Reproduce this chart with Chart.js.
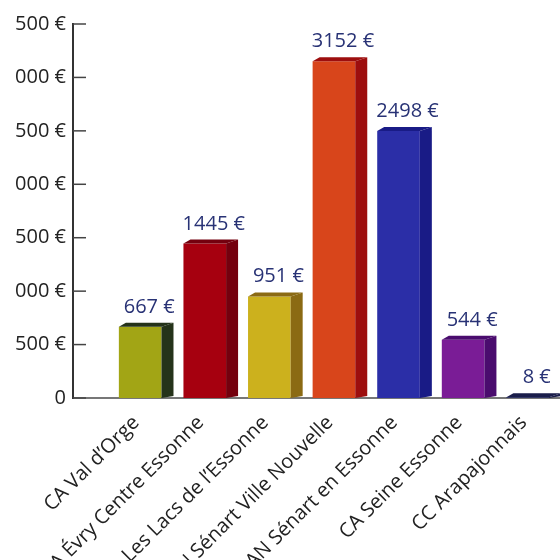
<!DOCTYPE html>
<html>
<head>
<meta charset="utf-8">
<script src="https://cdn.jsdelivr.net/npm/chart.js@4/dist/chart.umd.min.js"></script>
<style>
  html, body { margin: 0; padding: 0; background: #fff; width: 560px; height: 560px; overflow: hidden; }
  #wrap { width: 560px; height: 640px; }
</style>
</head>
<body>
<div id="wrap"><canvas id="chart" width="560" height="640"></canvas></div>
<script>
const categories = [
  "CA Val d’Orge",
  "CA Évry Centre Essonne",
  "CA Les Lacs de l’Essonne",
  "SAN Sénart Ville Nouvelle",
  "SAN Sénart en Essonne",
  "CA Seine Essonne",
  "CC Arapajonnais"
];
const amounts = [667, 1445, 951, 3152, 2498, 544, 8];
const yTicks = [0, 500, 1000, 1500, 2000, 2500, 3000, 3500];
// the left edge of the picture cuts off the thousands digit
const yTickLabels = ["0", "500 €", "000 €", "500 €", "000 €", "500 €", "000 €", "500 €"];

const frontColors = ["#a2a515", "#a6000f", "#ccb11d", "#d8451b", "#2b2ea7", "#7a1c96", "#2a2f6e"];
const sideColors = ["#25331a", "#74000e", "#8b6a13", "#9d0e0e", "#191b86", "#4a0c6e", "#1a1d4a"];

Chart.defaults.font.family = "'Open Sans', sans-serif";

// fake 3d: dark side + top face on each bar
const bar3d = {
  id: "bar3d",
  afterDatasetsDraw(chart) {
    const ctx = chart.ctx;
    const dx = 12, dy = 4;
    chart.getDatasetMeta(0).data.forEach((bar, i) => {
      const x0 = bar.x - bar.width / 2;
      const x1 = bar.x + bar.width / 2;
      const top = bar.y;
      const base = bar.base;
      ctx.save();
      ctx.fillStyle = sideColors[i];
      ctx.beginPath();
      ctx.moveTo(x1, top);
      ctx.lineTo(x1 + dx, top - dy);
      ctx.lineTo(x1 + dx, base - 2);
      ctx.lineTo(x1, base);
      ctx.closePath();
      ctx.fill();
      ctx.beginPath();
      ctx.moveTo(x0, top);
      ctx.lineTo(x0 + 7, top - dy);
      ctx.lineTo(x1 + dx, top - dy);
      ctx.lineTo(x1, top);
      ctx.closePath();
      ctx.fill();
      ctx.restore();
    });
  }
};

const valueLabels = {
  id: "valueLabels",
  afterDatasetsDraw(chart) {
    const ctx = chart.ctx;
    ctx.save();
    ctx.font = "20px 'Open Sans', sans-serif";
    ctx.fillStyle = "#283275";
    ctx.textAlign = "center";
    ctx.textBaseline = "alphabetic";
    chart.getDatasetMeta(0).data.forEach((bar, i) => {
      ctx.fillText(amounts[i] + " €", bar.x + 9, bar.y - 14);
    });
    ctx.restore();
  }
};

// short tick marks pointing into the plot
const innerTicks = {
  id: "innerTicks",
  afterDraw(chart) {
    const ctx = chart.ctx;
    const y = chart.scales.y;
    const left = chart.chartArea.left;
    ctx.save();
    ctx.strokeStyle = "#444";
    ctx.lineWidth = 1.5;
    yTicks.forEach(v => {
      const py = y.getPixelForValue(v);
      ctx.beginPath();
      ctx.moveTo(left, py);
      ctx.lineTo(left + 13, py);
      ctx.stroke();
    });
    ctx.restore();
  }
};

new Chart(document.getElementById("chart"), {
  type: "bar",
  data: {
    datasets: [{
      data: amounts.map((v, i) => ({ x: i, y: v })),
      backgroundColor: frontColors,
      borderWidth: 0,
      barPercentage: 0.66,
      categoryPercentage: 1
    }]
  },
  options: {
    responsive: false,
    animation: false,
    devicePixelRatio: 1,
    layout: { padding: { top: 24, right: 0, left: 0, bottom: 0 } },
    plugins: {
      legend: { display: false },
      tooltip: { enabled: false }
    },
    scales: {
      x: {
        type: "linear",
        offset: false,
        min: -1.04,
        max: 6.5,
        grid: { display: false, drawTicks: false },
        border: { display: true, color: "#777", width: 2 },
        ticks: {
          stepSize: 1,
          includeBounds: false,
          autoSkip: false,
          minRotation: 45,
          maxRotation: 45,
          padding: 13,
          labelOffset: -4,
          color: "#222",
          font: { size: 20 },
          callback: v => (Number.isInteger(v) && categories[v]) ? categories[v] : ""
        },
        afterFit: scale => { scale.height = 242; }
      },
      y: {
        min: 0,
        max: 3500,
        grid: { display: false, drawTicks: false },
        border: { display: true, color: "#333", width: 2 },
        ticks: {
          stepSize: 500,
          padding: 7,
          color: "#222",
          font: { size: 20 },
          callback: v => yTickLabels[yTicks.indexOf(v)]
        },
        afterFit: scale => { scale.width = 73; }
      }
    }
  },
  plugins: [bar3d, valueLabels, innerTicks]
});
</script>
</body>
</html>
